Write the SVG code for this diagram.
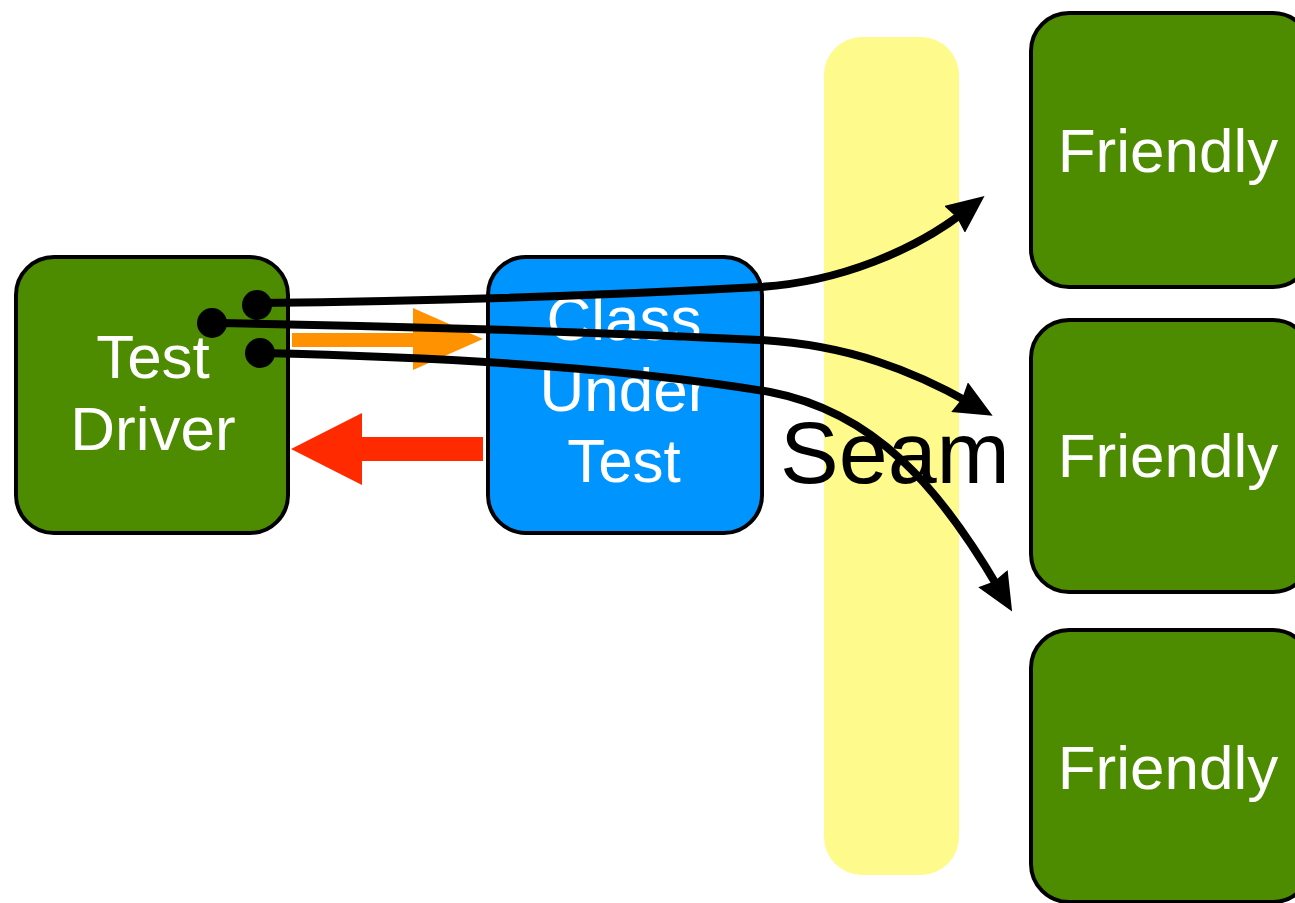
<svg xmlns="http://www.w3.org/2000/svg" width="1295" height="903" viewBox="0 0 1295 903">
<style>
.box{stroke:#000;stroke-width:4}
.green{fill:#4D8C00}
.blue{fill:#0094FF}
.lbl{font-family:"Liberation Sans",Arial,sans-serif;font-size:62px;fill:#fff;text-anchor:middle}
.conn{fill:none;stroke:#000;stroke-width:8}
</style>
<defs>
<marker id="ah" markerUnits="userSpaceOnUse" viewBox="0 0 38 34" refX="12" refY="17" markerWidth="38" markerHeight="34" orient="auto">
<path d="M0,0 L38,17 L0,34 L3,17 z" fill="#000"/>
</marker>
</defs>
<rect id="seam" x="824" y="37" width="135" height="838" rx="38" fill="#FFFA8C"/>
<g id="test-driver">
<rect class="box green" x="16" y="257" width="272" height="276" rx="38"/>
<text class="lbl" x="153" y="378">Test</text>
<text class="lbl" x="153" y="450">Driver</text>
</g>
<g id="class-under-test">
<rect class="box blue" x="488" y="257" width="274" height="276" rx="38"/>
<text class="lbl" x="624" y="340">Class</text>
<text class="lbl" x="624" y="411">Under</text>
<text class="lbl" x="624" y="482">Test</text>
</g>
<g id="friendly-1">
<rect class="box green" x="1031" y="13" width="280" height="274" rx="38"/>
<text class="lbl" x="1168" y="172">Friendly</text>
</g>
<g id="friendly-2">
<rect class="box green" x="1031" y="320" width="280" height="272" rx="38"/>
<text class="lbl" x="1168" y="477">Friendly</text>
</g>
<g id="friendly-3">
<rect class="box green" x="1031" y="630" width="280" height="272" rx="38"/>
<text class="lbl" x="1168" y="789">Friendly</text>
</g>
<g id="connectors">
<path d="M292,333 L413,333 L413,308 L483,339 L413,370 L413,347 L292,347 z" fill="#FF9200"/>
<path d="M291,449 L362,413 L362,437 L483,437 L483,461 L362,461 L362,485 z" fill="#FF2A00"/>
<path class="conn" d="M257,303 Q520,300 760,287 C840,282 915,250 964,212" marker-end="url(#ah)"/>
<path class="conn" d="M212,323 Q480,327 760,340 C850,345 915,372 970,403" marker-end="url(#ah)"/>
<path class="conn" d="M260,353 Q580,360 770,392 C875,412 940,488 999,589" marker-end="url(#ah)"/>
<circle cx="257" cy="305" r="15"/>
<circle cx="212" cy="323" r="15"/>
<circle cx="260" cy="353" r="15"/>
</g>
<text id="seam-label" x="780" y="483" font-family="Liberation Sans, Arial, sans-serif" font-size="88" fill="#000">Seam</text>
</svg>
